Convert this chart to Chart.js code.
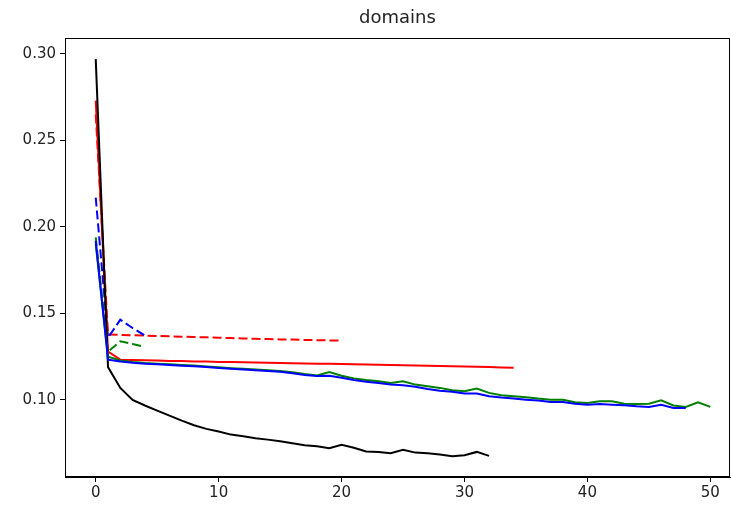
<!DOCTYPE html>
<html>
<head>
<meta charset="utf-8">
<script src="https://cdn.jsdelivr.net/npm/chart.js@4/dist/chart.umd.min.js"></script>
<style>
  html, body { margin: 0; padding: 0; background: #fff; }
  #wrap { width: 731px; height: 506px; }
</style>
</head>
<body>
<div id="wrap"><canvas id="chart" width="731" height="506"></canvas></div>
<script>
const xTicks = [0, 10, 20, 30, 40, 50];
const yTicks = [0.10, 0.15, 0.20, 0.25, 0.30];

// solid lines
const blackSolid = [0.297, 0.119, 0.107, 0.100, 0.0968, 0.0939, 0.0910, 0.0881, 0.0854, 0.0833,
  0.0818, 0.0800, 0.0790, 0.0779, 0.0771, 0.0762, 0.0750, 0.0738, 0.0733, 0.0721,
  0.0741, 0.0724, 0.0702, 0.0700, 0.0692, 0.0712, 0.0696, 0.0692, 0.0685, 0.0675,
  0.0681, 0.0700, 0.0677];
const redSolid = [0.273, 0.128, 0.1233, 0.1231, 0.1229, 0.1228, 0.1226, 0.1225, 0.1223, 0.1222,
  0.1220, 0.1219, 0.1218, 0.1216, 0.1215, 0.1214, 0.1212, 0.1211, 0.1210, 0.1209,
  0.1208, 0.1206, 0.1205, 0.1204, 0.1202, 0.1201, 0.1200, 0.1198, 0.1197, 0.1195,
  0.1194, 0.1192, 0.1190, 0.1188, 0.1186];
const blueSolid = [0.192, 0.1233, 0.1223, 0.1215, 0.1210, 0.1206, 0.1202, 0.1198, 0.1195, 0.1190,
  0.1185, 0.1180, 0.1176, 0.1172, 0.1168, 0.1163, 0.1155, 0.1145, 0.1138, 0.1140,
  0.1128, 0.1115, 0.1106, 0.1098, 0.1089, 0.1085, 0.1076, 0.1064, 0.1054, 0.1047,
  0.1037, 0.1037, 0.1022, 0.1014, 0.1008, 0.1002, 0.0997, 0.0989, 0.0989, 0.0979,
  0.0973, 0.0977, 0.0973, 0.0970, 0.0964, 0.0960, 0.0973, 0.0954, 0.0954];
const greenSolid = [0.190, 0.1250, 0.1228, 0.1220, 0.1214, 0.1210, 0.1206, 0.1202, 0.1199, 0.1194,
  0.1189, 0.1184, 0.1180, 0.1176, 0.1172, 0.1167, 0.1160, 0.1150, 0.1142, 0.1162,
  0.1140, 0.1125, 0.1115, 0.1108, 0.1098, 0.1108, 0.1089, 0.1079, 0.1070, 0.1056,
  0.1050, 0.1066, 0.1041, 0.1027, 0.1022, 0.1016, 0.1008, 0.1002, 0.1002, 0.0987,
  0.0983, 0.0993, 0.0993, 0.0979, 0.0977, 0.0979, 0.0998, 0.0968, 0.0960, 0.0987,
  0.0960];

// dashed lines
const redDashed = [0.265, 0.1378, 0.1376, 0.1374, 0.1372, 0.1370, 0.1368, 0.1366, 0.1364, 0.1362,
  0.1360, 0.1358, 0.1356, 0.1354, 0.1352, 0.1350, 0.1349, 0.1347, 0.1346, 0.1344,
  0.1343];
const blueDashed = [0.217, 0.136, 0.1464, 0.1416, 0.1372];
const greenDashed = [0.194, 0.128, 0.1339, 0.1324, 0.1307];

const toPoints = arr => arr.map((v, i) => ({ x: i, y: v }));

function series(data, color, dashed) {
  return {
    data: toPoints(data),
    borderColor: color,
    backgroundColor: color,
    borderWidth: 2,
    borderDash: dashed ? [9, 4] : [],
    pointRadius: 0,
    tension: 0,
    fill: false
  };
}

const frameAndTitle = {
  id: 'frameAndTitle',
  afterDraw(chart) {
    const a = chart.chartArea;
    const c = chart.ctx;
    c.save();
    c.strokeStyle = '#000';
    c.lineWidth = 1;
    c.strokeRect(a.left + 0.5, a.top + 0.5, a.right - a.left - 1, a.bottom - a.top - 1);
    c.fillStyle = '#222';
    c.font = '18px "DejaVu Sans"';
    c.textAlign = 'center';
    c.textBaseline = 'middle';
    c.fillText('domains', (a.left + a.right) / 2, 18);
    c.restore();
  }
};

new Chart(document.getElementById('chart'), {
  type: 'line',
  data: {
    datasets: [
      series(blueSolid, '#0000ff', false),
      series(greenSolid, '#008000', false),
      series(blackSolid, '#000000', false),
      series(redSolid, '#ff0000', false),
      series(blueDashed, '#0000ff', true),
      series(greenDashed, '#008000', true),
      series(redDashed, '#ff0000', true)
    ]
  },
  options: {
    responsive: false,
    animation: false,
    layout: { padding: { top: 38, right: 1, left: 0, bottom: 0 } },
    plugins: { legend: { display: false }, title: { display: false }, tooltip: { enabled: false } },
    scales: {
      x: {
        type: 'linear',
        min: -2.5,
        max: 51.6,
        afterBuildTicks: s => { s.ticks = xTicks.map(v => ({ value: v })); },
        afterFit: s => { s.height = 29; },
        grid: { drawOnChartArea: false, drawTicks: true, tickLength: 5, color: '#000' },
        border: { display: true, color: '#000' },
        ticks: { color: '#222', font: { family: 'DejaVu Sans', size: 15 }, padding: 2, maxRotation: 0 }
      },
      y: {
        type: 'linear',
        min: 0.0555,
        max: 0.3092,
        afterBuildTicks: s => { s.ticks = yTicks.map(v => ({ value: v })); },
        afterFit: s => { s.width = 65; },
        grid: { drawOnChartArea: false, drawTicks: true, tickLength: 5, color: '#000' },
        border: { display: true, color: '#000' },
        ticks: { color: '#222', font: { family: 'DejaVu Sans', size: 15 }, padding: 4,
          callback: v => v.toFixed(2) }
      }
    }
  },
  plugins: [frameAndTitle]
});
</script>
</body>
</html>
